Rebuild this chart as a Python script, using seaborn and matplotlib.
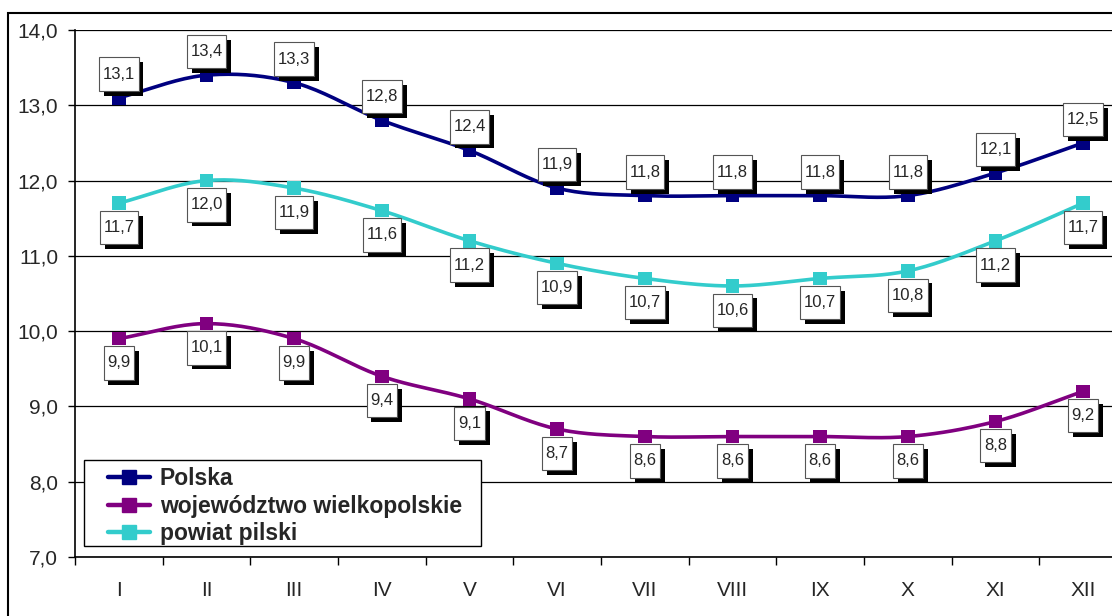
import matplotlib as mpl
mpl.use('Agg')
import matplotlib.pyplot as plt
import matplotlib.patheffects as pe
from matplotlib.lines import Line2D
from matplotlib.patches import Rectangle
from matplotlib.path import Path
from matplotlib.ticker import FixedLocator, FuncFormatter
import seaborn as sns
import numpy as np
import pandas as pd

months = ['I', 'II', 'III', 'IV', 'V', 'VI', 'VII', 'VIII', 'IX', 'X', 'XI', 'XII']
polska = [13.1, 13.4, 13.3, 12.8, 12.4, 11.9, 11.8, 11.8, 11.8, 11.8, 12.1, 12.5]
wojewodztwo = [9.9, 10.1, 9.9, 9.4, 9.1, 8.7, 8.6, 8.6, 8.6, 8.6, 8.8, 9.2]
powiat = [11.7, 12.0, 11.9, 11.6, 11.2, 10.9, 10.7, 10.6, 10.7, 10.8, 11.2, 11.7]

series_names = ['Polska', 'województwo wielkopolskie', 'powiat pilski']
colors = ['#000080', '#800080', '#33CCCC']
label_offsets = [17, -17.5, -17.5]  # points, labels above / below markers


def smooth(y, n=20):
    # Catmull-Rom curve through the points (like Excel's smoothed line)
    y = np.asarray(y, dtype=float)
    x = np.arange(len(y), dtype=float)
    px = np.concatenate([[2 * x[0] - x[1]], x, [2 * x[-1] - x[-2]]])
    py = np.concatenate([[2 * y[0] - y[1]], y, [2 * y[-1] - y[-2]]])
    xs, ys = [], []
    t = np.linspace(0, 1, n, endpoint=False)
    for i in range(1, len(px) - 2):
        for p, out in ((px, xs), (py, ys)):
            p0, p1, p2, p3 = p[i - 1], p[i], p[i + 1], p[i + 2]
            out.extend(0.5 * (2 * p1 + (-p0 + p2) * t + (2 * p0 - 5 * p1 + 4 * p2 - p3) * t ** 2
                              + (-p0 + 3 * p1 - 3 * p2 + p3) * t ** 3))
    xs.append(x[-1])
    ys.append(y[-1])
    return np.array(xs), np.array(ys)


def label_box(x0, y0, width, height, mutation_size):
    # rectangle with more padding top/bottom than left/right
    px, py = 0.22 * mutation_size, 0.55 * mutation_size
    a, b = x0 - px, y0 - py
    c, d = x0 + width + px, y0 + height + py
    return Path([(a, b), (c, b), (c, d), (a, d), (a, b)], closed=True)


sns.set_style('white')
plt.rcParams['font.family'] = ['Liberation Sans', 'DejaVu Sans']

points = pd.DataFrame({
    'x': np.tile(np.arange(len(months)), 3),
    'value': polska + wojewodztwo + powiat,
    'series': np.repeat(series_names, len(months)),
})
curves = []
for name, vals in zip(series_names, [polska, wojewodztwo, powiat]):
    cx, cy = smooth(vals)
    curves.append(pd.DataFrame({'x': cx, 'value': cy, 'series': name}))
curves = pd.concat(curves, ignore_index=True)

fig = plt.figure(figsize=(11.12, 6.16), dpi=100)
W, H = 1112, 616
ax = fig.add_axes([75 / W, 1 - 557 / H, (1127 - 75) / W, (557 - 30) / H])

palette = dict(zip(series_names, colors))
sns.lineplot(data=curves, x='x', y='value', hue='series', palette=palette,
             sort=False, lw=2.6, legend=False, ax=ax, zorder=3)
sns.scatterplot(data=points, x='x', y='value', hue='series', palette=palette,
                marker='s', s=95, linewidth=0, legend=False, ax=ax, zorder=4)

for vals, off in zip([polska, wojewodztwo, powiat], label_offsets):
    for i, v in enumerate(vals):
        t = ax.annotate(f'{v:.1f}'.replace('.', ','), (i, v), xytext=(0, off),
                        textcoords='offset points', ha='center', va='center',
                        fontsize=12, zorder=6,
                        bbox=dict(boxstyle=label_box, fc='white', ec='#555555', lw=0.8))
        t.get_bbox_patch().set_path_effects([
            pe.SimplePatchShadow(offset=(3.5, -3.5), shadow_rgbFace='black', alpha=1),
            pe.Normal()])

ax.set_xlim(-0.5, 11.5)
ax.set_ylim(7, 14)
ax.set_yticks(np.arange(7, 14.1, 1))
ax.yaxis.set_major_formatter(FuncFormatter(lambda v, p: f'{v:.1f}'.replace('.', ',')))
ax.grid(axis='y', color='black', lw=0.9)
ax.set_axisbelow(True)

ax.xaxis.set_major_locator(FixedLocator(np.arange(-0.5, 12, 1)))
ax.xaxis.set_major_formatter(FuncFormatter(lambda v, p: ''))
ax.xaxis.set_minor_locator(FixedLocator(np.arange(12)))
ax.set_xticklabels(months, minor=True)
ax.tick_params(axis='x', which='major', direction='out', length=6, width=1, color='black', bottom=True)
ax.tick_params(axis='x', which='minor', length=0, pad=17, labelsize=15)
ax.tick_params(axis='y', direction='out', length=5, width=1, color='black', left=True, pad=7, labelsize=15)
ax.set_xlabel('')
ax.set_ylabel('')

for side in ['top', 'right']:
    ax.spines[side].set_visible(False)
for side in ['left', 'bottom']:
    ax.spines[side].set_color('black')
    ax.spines[side].set_linewidth(1.2)

# legend frame drawn separately so the handles can sit further in
ax.add_patch(Rectangle((9 / 1052, 11 / 527), 397 / 1052, 86 / 527, transform=ax.transAxes,
                       fc='white', ec='black', lw=1.0, zorder=7))
handles = [Line2D([], [], color=c, lw=3.2, marker='s', markersize=9.5) for c in colors]
leg = ax.legend(handles, series_names, loc='upper left',
                bbox_to_anchor=(33 / 1052, (557 - 467) / 527),
                borderaxespad=0, borderpad=0, frameon=False,
                prop={'weight': 'bold', 'size': 16.5}, handlelength=1.85, handletextpad=0.4,
                labelspacing=0.2)
leg.set_zorder(8)

fig.patches.append(Rectangle((8 / W, -0.1), 1.2, (616 - 13) / H + 0.1,
                             transform=fig.transFigure, fill=False, ec='black', lw=1.5))

fig.savefig('out.png', dpi=100)
